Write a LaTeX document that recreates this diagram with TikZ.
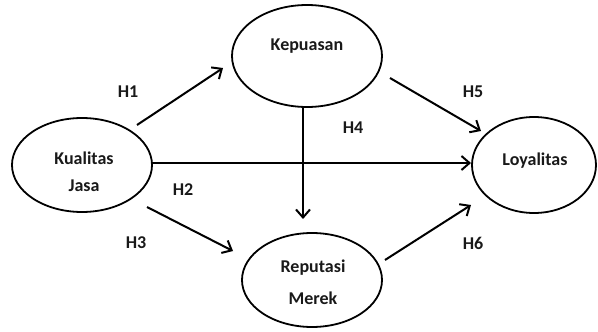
\documentclass[tikz,border=0pt]{standalone}
\usepackage{fontspec}
\setmainfont{Carlito}
\usetikzlibrary{arrows.meta}
\begin{document}
\begin{tikzpicture}[x=1pt,y=-1pt,
  ell/.style={line width=1.8pt},
  txt/.style={font=\bfseries\fontsize{18}{18}\selectfont,text=black!90},
  hyp/.style={font=\bfseries\fontsize{18}{18}\selectfont,text=black!90},
  conn/.style={line width=2pt,-{Straight Barb[length=8pt,width=14pt,line width=2pt]}}]
\useasboundingbox (0,0) rectangle (598,332);
% ellipses
\draw[ell] (82,165) ellipse [x radius=70,y radius=47];
\draw[ell] (307,56) ellipse [x radius=75,y radius=51];
\draw[ell] (312,280) ellipse [x radius=70,y radius=47];
\draw[ell] (534,165) ellipse [x radius=62,y radius=48];
\node[txt] (kj1) at (84,158) {Kualitas};
\node[txt] (kj2) at (84,186) {Jasa};
\node[txt] (kep) at (307,46) {Kepuasan};
\node[txt] (rm1) at (313,268) {Reputasi};
\node[txt] (rm2) at (313,298) {Merek};
\node[txt] (loy) at (535,161) {Loyalitas};
% connectors
\coordinate (a1) at (137,125); \coordinate (b1) at (223,68);
\coordinate (a5) at (390,78); \coordinate (b5) at (481,131);
\coordinate (a0) at (152,163); \coordinate (b0) at (471,163);
\coordinate (a4) at (303,107); \coordinate (b4) at (303,219);
\coordinate (a3) at (147,207); \coordinate (b3) at (233,251);
\coordinate (a6) at (385,260); \coordinate (b6) at (471,205);
\draw[conn] (a1) -- (b1);
\draw[conn] (a5) -- (b5);
\draw[conn] (a0) -- (b0);
\draw[conn] (a4) -- (b4);
\draw[conn] (a3) -- (b3);
\draw[conn] (a6) -- (b6);
\node[hyp] (h1) at (128,92) {H1};
\node[hyp] (h5) at (473,92) {H5};
\node[hyp] (h4) at (353,128) {H4};
\node[hyp] (h2) at (183,190) {H2};
\node[hyp] (h3) at (136,243) {H3};
\node[hyp] (h6) at (473,243) {H6};
\end{tikzpicture}
\end{document}
